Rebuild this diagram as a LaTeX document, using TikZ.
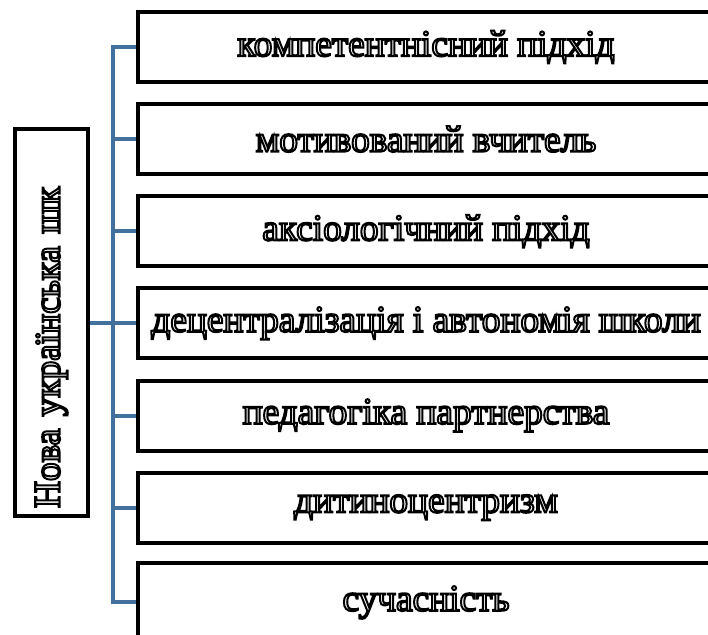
\documentclass[tikz,border=0pt]{standalone}
\usepackage{fontspec}
\setmainfont{Liberation Serif}
\usetikzlibrary{positioning,backgrounds}
\definecolor{linkblue}{RGB}{65,113,156}
% outlined letters (fill white, stroke black)
\newcommand{\outl}[1]{\special{pdf:literal direct 2 Tr 1.5 w 1 g 0 G}#1\special{pdf:literal direct 0 Tr 0 g}}
\tikzstyle{block} = [rectangle, draw, line width=3pt, minimum width=432pt,
minimum height=52.5pt, inner sep=0pt, node distance=69.1pt, font=\fontsize{28}{30}\selectfont]
\tikzstyle{head} = [rectangle, draw, line width=3pt, rotate=90, text width=278.25pt,
inner xsep=6pt, minimum height=54.75pt, align=left, font=\fontsize{28}{30}\selectfont]
\tikzstyle{line} = [draw, linkblue, line width=3pt]

\begin{document}
\begin{tikzpicture}[x=0.75pt,y=-0.75pt]
\useasboundingbox (0,0) rectangle (708,635);

         \node (School) [head] at (51.5,322.5) {\outl{Нова українська шк}};

         \node (Competence) [block] at (426,47) {\outl{компетентнісний підхід}};
         \node (Teacher) [block, below of=Competence] {\outl{мотивований вчитель}};
         \node (Values) [block, below of=Teacher] {\outl{аксіологічний підхід}};
         \node (Autonomy) [block, below of=Values] {\outl{децентралізація і автономія школи}};
         \node (Partners) [block, below of=Autonomy] {\outl{педагогіка партнерства}};
         \node (Child) [block, below of=Partners] {\outl{дитиноцентризм}};
         \node (Modern) [block, below of=Child, minimum height=58.5pt, yshift=-2pt] {\outl{сучасність}};

         \coordinate (Trunk) at (113,322.5);

         \begin{scope}[on background layer]
         \path [line] (Competence.west) -| (Trunk) |- (Modern.west);
         \path [line] (School.south) -- (Trunk);

         \path [line] (Teacher.west) -- (Teacher.west -| Trunk);
         \path [line] (Values.west) -- (Values.west -| Trunk);
         \path [line] (Autonomy.west) -- (Autonomy.west -| Trunk);
         \path [line] (Partners.west) -- (Partners.west -| Trunk);
         \path [line] (Child.west) -- (Child.west -| Trunk);
         \end{scope}

     \end{tikzpicture}
\end{document}
